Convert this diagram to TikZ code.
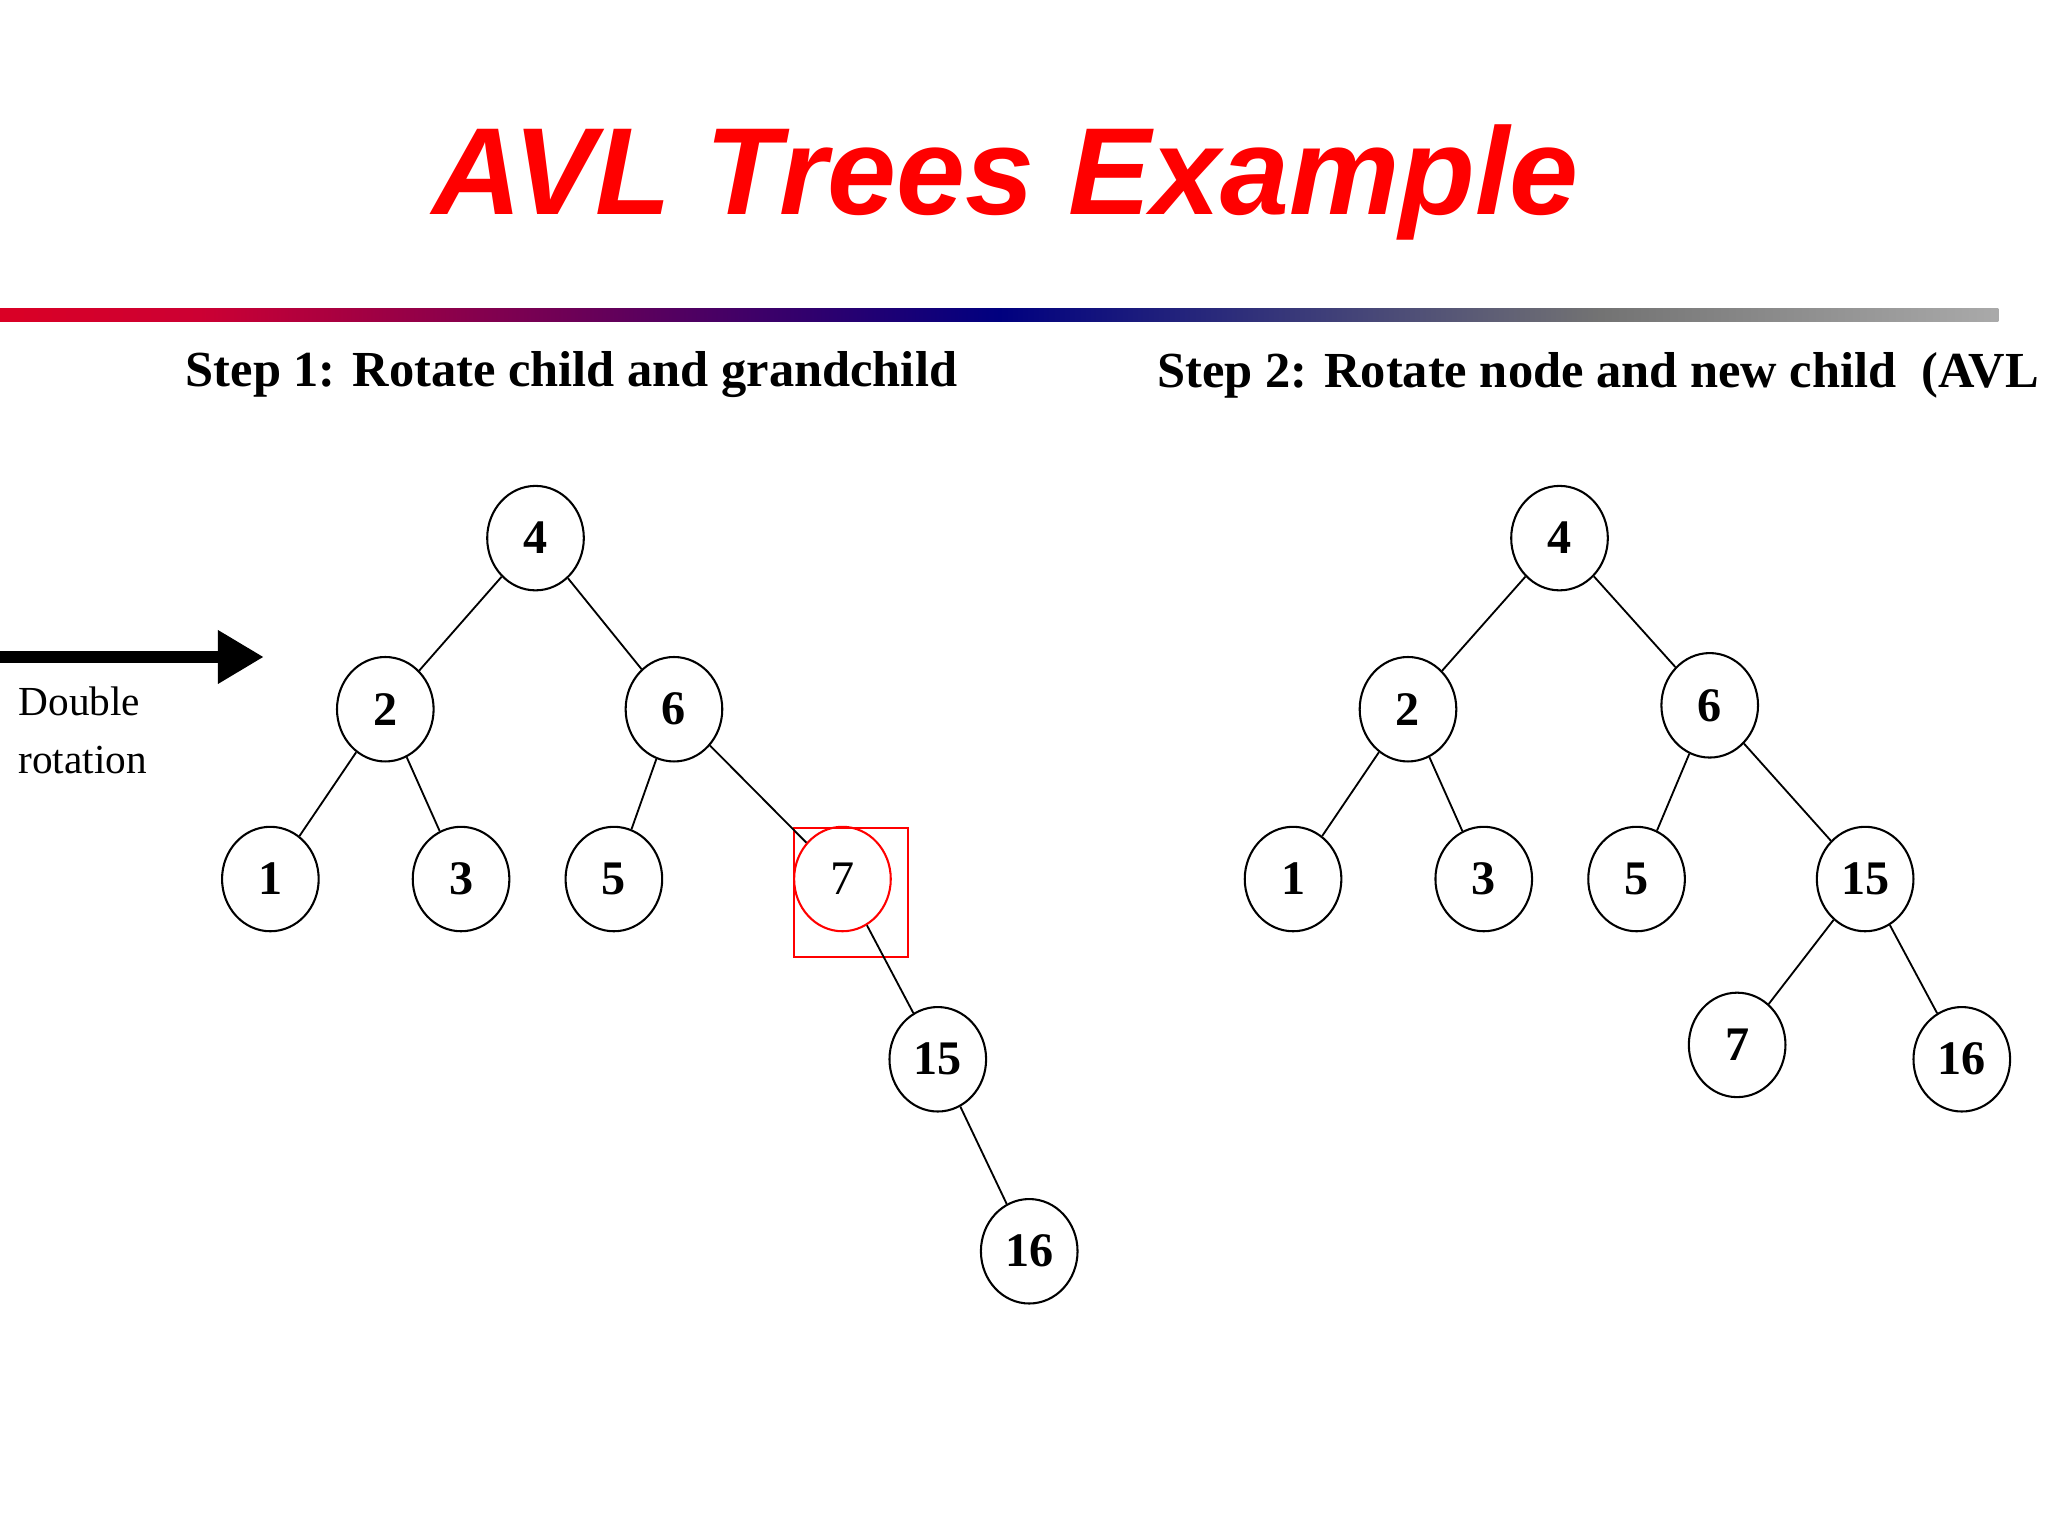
\documentclass[tikz,border=0pt]{standalone}
\usepackage{fontspec}
\setmainfont{Liberation Serif}
\newfontfamily\titlefont{Liberation Sans}
\usetikzlibrary{arrows.meta,shapes.geometric}
\pgfdeclarehorizontalshading{rainbowbar}{100bp}{color(0bp)=(orange!90!yellow); color(12bp)=(red); color(30bp)=(purple!80!red); color(50bp)=(blue!50!black); color(65bp)=(black!55!white); color(85bp)=(black!12); color(100bp)=(white)}
\begin{document}
\begin{tikzpicture}[x=0.02cm,y=-0.02cm,
  tn/.style={draw,ellipse,minimum width=1.48cm,minimum height=1.6cm,inner sep=0pt,font=\fontsize{21}{21}\selectfont\bfseries,line width=0.9pt},
  ed/.style={line width=0.8pt}]
\useasboundingbox (0,0) rectangle (1568,1176);
\clip (0,0) rectangle (1568,1176);
\node[font=\titlefont\fontsize{54}{54}\selectfont\bfseries\itshape,text=red] (title) at (770,140) {AVL Trees Example};
\shade[shading=rainbowbar] (0,236) rectangle (1530,246);
\node[anchor=west,font=\fontsize{22}{22}\selectfont\bfseries] (s1) at (136,287) {Step 1: Rotate child and grandchild};
\node[anchor=west,font=\fontsize{22}{22}\selectfont\bfseries] (s2) at (880,287) {Step 2: Rotate node and new child\ \ (AVL};
\coordinate (as) at (0,503);
\coordinate (ae) at (202,503);
\draw[line width=5pt,-{Triangle[length=20pt,width=22pt]}] (as) -- (ae);
\node[anchor=north west,align=left,font=\fontsize{18}{25}\selectfont] (dr) at (8,520) {Double\\rotation};
% left tree
\node[tn] (a4) at (410,412) {4};
\node[tn] (a2) at (295,543) {2};
\node[tn] (a6) at (516,543) {6};
\node[tn] (a1) at (207,673) {1};
\node[tn] (a3) at (353,673) {3};
\node[tn] (a5) at (470,673) {5};
\node[tn,draw=red,font=\fontsize{21}{21}\selectfont] (a7) at (645,673) {7};
\node[tn] (a15) at (718,811) {15};
\node[tn] (a16) at (788,958) {16};
\node[draw=red,line width=0.9pt,minimum width=1.74cm,minimum height=1.98cm] (box) at (651.5,683.5) {};
\foreach \p/\c in {a4/a2,a4/a6,a2/a1,a2/a3,a6/a5,a6/a7,a7/a15,a15/a16} \draw[ed] (\p) -- (\c);
% right tree
\node[tn] (b4) at (1194,412) {4};
\node[tn] (b2) at (1078,543) {2};
\node[tn] (b6) at (1309,540) {6};
\node[tn] (b1) at (990,673) {1};
\node[tn] (b3) at (1136,673) {3};
\node[tn] (b5) at (1253,673) {5};
\node[tn] (b15) at (1428,673) {15};
\node[tn] (b7) at (1330,800) {7};
\node[tn] (b16) at (1502,811) {16};
\foreach \p/\c in {b4/b2,b4/b6,b2/b1,b2/b3,b6/b5,b6/b15,b15/b7,b15/b16} \draw[ed] (\p) -- (\c);
\end{tikzpicture}
\end{document}
